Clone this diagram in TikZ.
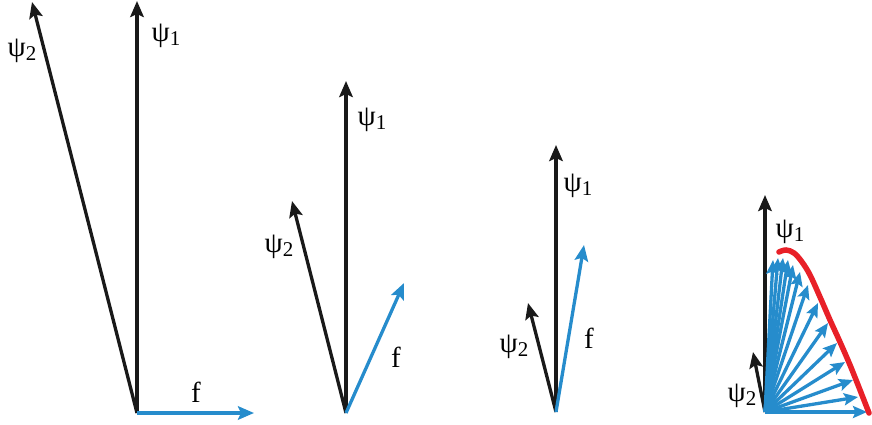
\documentclass[tikz,border=0pt]{standalone}
\usepackage{fontspec}
\setmainfont{Liberation Serif}
\usetikzlibrary{arrows.meta}
\definecolor{vblue}{RGB}{38,140,204}
\definecolor{vred}{RGB}{232,32,40}
\newcommand{\psis}[1]{ψ\raisebox{-0.3ex}{\fontsize{21}{22}\selectfont #1}}
\tikzset{
  vec/.style={line width=3.3pt,-{Stealth[length=16pt,width=13.5pt,inset=3pt]}},
  blk/.style={vec,draw=black!90},
  blu/.style={vec,draw=vblue},
  fan/.style={line width=3.3pt,draw=vblue,-{Stealth[length=14pt,width=12pt,inset=2.5pt]}},
  lab/.style={inner sep=0pt,font=\fontsize{29}{30}\selectfont},
}
\begin{document}
\begin{tikzpicture}[x=1pt,y=-1pt]
\useasboundingbox (0,0) rectangle (872,425);
% panel 1
\coordinate (o1) at (137,413);
\coordinate (a1) at (137,1);
\coordinate (b1) at (32,2);
\coordinate (f1) at (254,413);
\draw[blk] (o1) -- (a1);
\draw[blk] (o1) -- (b1);
\draw[blu] (o1) -- (f1);
\node[lab] (la1) at (166,36) {\psis{1}};
\node[lab] (lb1) at (22,51) {\psis{2}};
\node[lab] (lf1) at (196,392) {f};
% panel 2
\coordinate (o2) at (346,413);
\coordinate (a2) at (346,81);
\coordinate (b2) at (292,201);
\coordinate (f2) at (404,283);
\draw[blk] (o2) -- (a2);
\draw[blk] (o2) -- (b2);
\draw[blu] (o2) -- (f2);
\node[lab] (la2) at (372,120) {\psis{1}};
\node[lab] (lb2) at (279,247) {\psis{2}};
\node[lab] (lf2) at (396,357) {f};
% panel 3
\coordinate (o3) at (556,412);
\coordinate (a3) at (556,145);
\coordinate (b3) at (528,303);
\coordinate (f3) at (584,245);
\draw[blk] (o3) -- (a3);
\draw[blk] (o3) -- (b3);
\draw[blu] (o3) -- (f3);
\node[lab] (la3) at (578,186) {\psis{1}};
\node[lab] (lb3) at (514,347) {\psis{2}};
\node[lab] (lf3) at (589,338) {f};
% panel 4
\coordinate (o4) at (765,412);
\coordinate (a4) at (765,195);
\coordinate (b4) at (753,352);
\draw[blk] (o4) -- (a4);
\draw[blk] (o4) -- (b4);
\foreach \x/\y [count=\i] in {102/0,93/15,88/32,80/50,72/69,63/89,53/109,43/127,35/140,28/147,23/152,18/154,13/154,8/152}{
  \coordinate (t\i) at (765+\x,412-\y);
  \draw[fan] (o4) -- (t\i);
}
\draw[vred,line width=5.5pt,line cap=round] plot[smooth,tension=0.6] coordinates
 {(779,252) (786,250) (794,253) (802,262) (810,275) (820,297) (830,320) (840,342) (850,365) (860,390) (869,413)};
\node[lab] (la4) at (790,232) {\psis{1}};
\node[lab] (lb4) at (742,396) {\psis{2}};
\end{tikzpicture}
\end{document}
